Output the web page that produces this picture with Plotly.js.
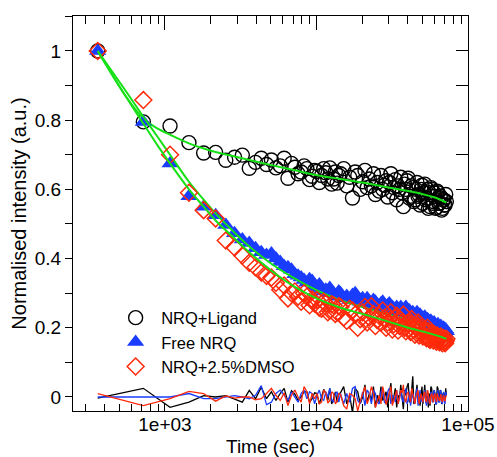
<!DOCTYPE html>
<html>
<head>
<meta charset="utf-8">
<script src="https://cdn.plot.ly/plotly-3.0.1.min.js"></script>
<style>html,body{margin:0;padding:0;background:#fff;}#chart{width:497px;height:457px;}</style>
</head>
<body>
<div id="chart"></div>
<script>
// Time points (sec)
const timeSec = [360,720,1080,1440,1800,2160,2520,2880,3240,3600,
  3960,4320,4680,5040,5400,5760,6120,6480,6840,7200,
  7560,7920,8280,8640,9000,9360,9720,10080,10440,10800,
  11160,11520,11880,12240,12600,12960,13320,13680,14040,14400,
  15120,15840,16560,17280,18000,18720,19440,20160,20880,21600,
  22320,23040,23760,24480,25200,25920,26640,27360,28080,28800,
  29520,30240,30960,31680,32400,33120,33840,34560,35280,36000,
  36720,37440,38160,38880,39600,40320,41040,41760,42480,43200,
  43920,44640,45360,46080,46800,47520,48240,48960,49680,50400,
  51120,51840,52560,53280,54000,54720,55440,56160,56880,57600,
  58320,59040,59760,60480,61200,61920,62640,63360,64080,64800,
  65520,66240,66960,67680,68400,69120,69840,70560,71280,72000];

// NRQ+Ligand (open circles)
const ligand = [1.0,0.795,0.783,0.735,0.705,0.707,0.684,0.693,0.699,0.661,
  0.678,0.69,0.672,0.685,0.662,0.668,0.69,0.632,0.675,0.664,
  0.645,0.65,0.668,0.66,0.628,0.638,0.655,0.652,0.62,0.64,
  0.66,0.648,0.63,0.662,0.615,0.63,0.65,0.618,0.64,0.645,
  0.66,0.61,0.635,0.575,0.65,0.64,0.6,0.622,0.655,0.605,
  0.63,0.61,0.645,0.585,0.62,0.595,0.64,0.6,0.612,0.625,
  0.578,0.62,0.645,0.59,0.605,0.628,0.57,0.61,0.6,0.635,
  0.59,0.55,0.615,0.6,0.625,0.632,0.575,0.58,0.61,0.605,
  0.565,0.57,0.6,0.62,0.58,0.585,0.555,0.6,0.612,0.56,
  0.59,0.615,0.57,0.575,0.6,0.545,0.59,0.55,0.605,0.6,
  0.56,0.565,0.59,0.58,0.545,0.548,0.595,0.59,0.56,0.56,
  0.58,0.575,0.54,0.545,0.57,0.57,0.555,0.555,0.585,0.565];

// Free NRQ (filled triangles)
const freeNRQ = [1.0,0.795,0.675,0.58,0.55,0.525,0.497,0.473,0.455,0.445,
  0.43,0.418,0.41,0.415,0.4,0.39,0.378,0.375,0.368,0.355,
  0.35,0.345,0.338,0.33,0.34,0.335,0.322,0.315,0.325,0.31,
  0.305,0.31,0.3,0.315,0.305,0.3,0.29,0.295,0.305,0.3,
  0.285,0.292,0.28,0.295,0.3,0.28,0.275,0.285,0.27,0.285,
  0.275,0.265,0.28,0.275,0.262,0.26,0.27,0.275,0.258,0.255,
  0.265,0.27,0.25,0.26,0.255,0.248,0.26,0.245,0.252,0.26,
  0.25,0.245,0.255,0.26,0.24,0.245,0.25,0.235,0.242,0.245,
  0.235,0.23,0.24,0.245,0.225,0.232,0.238,0.225,0.23,0.22,
  0.228,0.232,0.22,0.215,0.225,0.222,0.21,0.215,0.22,0.215,
  0.205,0.21,0.215,0.208,0.2,0.198,0.205,0.21,0.198,0.195,
  0.2,0.205,0.192,0.19,0.198,0.2,0.188,0.185,0.195,0.19];

// NRQ+2.5%DMSO (open diamonds)
const dmso = [1.0,0.858,0.70,0.59,0.54,0.516,0.452,0.432,0.409,0.388,
  0.375,0.36,0.35,0.345,0.33,0.31,0.322,0.285,0.3,0.305,
  0.29,0.275,0.3,0.29,0.265,0.282,0.27,0.28,0.258,0.255,
  0.275,0.27,0.245,0.25,0.268,0.265,0.24,0.245,0.262,0.26,
  0.23,0.22,0.255,0.25,0.238,0.2,0.225,0.245,0.26,0.215,
  0.23,0.262,0.24,0.205,0.222,0.235,0.215,0.25,0.228,0.2,
  0.215,0.23,0.245,0.195,0.21,0.228,0.235,0.192,0.205,0.222,
  0.215,0.238,0.2,0.19,0.212,0.215,0.198,0.188,0.225,0.21,
  0.195,0.18,0.2,0.205,0.215,0.178,0.19,0.2,0.185,0.175,
  0.192,0.195,0.175,0.17,0.2,0.19,0.168,0.165,0.182,0.185,
  0.175,0.163,0.178,0.18,0.168,0.16,0.178,0.172,0.165,0.158,
  0.168,0.175,0.162,0.155,0.165,0.17,0.158,0.155,0.162,0.168];

// Fit curves (green)
const fitTime = [360,540,720,900,1080,1440,1800,2160,2880,3600,5040,7200,10080,14400,20160,28800,40320,50400,61920,72000];
const fitLigand = [1.0,0.875,0.805,0.775,0.758,0.733,0.718,0.708,0.695,0.685,0.670,0.655,0.641,0.630,0.620,0.607,0.595,0.586,0.575,0.562];
const fitFree = [1.0,0.89,0.81,0.75,0.70,0.622,0.57,0.53,0.475,0.435,0.385,0.342,0.308,0.28,0.26,0.24,0.222,0.21,0.198,0.188];
const fitDmso = [1.0,0.875,0.79,0.725,0.675,0.60,0.55,0.51,0.458,0.418,0.365,0.318,0.284,0.258,0.24,0.22,0.2,0.189,0.178,0.168];

// Residuals
const resLigand = [-0.003,0.025,-0.03,-0.015,0.004,0.0,0.004,-0.005,-0.015,0.019,
  -0.005,0.028,-0.005,0.015,-0.01,0.01,0.025,-0.015,0.018,0.008,
  -0.01,0.0,0.015,0.015,-0.015,-0.005,0.012,0.01,-0.02,0.0,
  0.022,0.01,-0.01,0.025,-0.02,-0.005,0.015,-0.015,0.008,0.012,
  0.03,-0.02,0.005,-0.045,0.025,0.015,-0.02,0.0,0.035,-0.015,
  0.01,-0.01,0.03,-0.03,0.005,-0.015,0.03,-0.01,0.0,0.015,
  -0.03,0.01,0.04,-0.015,0.0,0.025,-0.03,0.005,-0.005,0.035,
  -0.005,-0.035,0.02,0.005,0.03,0.04,-0.015,-0.01,0.02,0.06,
  -0.02,-0.015,0.01,0.035,-0.01,0.0,-0.025,0.015,0.03,-0.02,
  0.01,0.035,-0.01,-0.01,0.02,-0.03,0.01,-0.025,0.03,0.025,
  -0.015,-0.01,0.02,0.01,-0.02,-0.02,0.03,0.025,-0.005,0.0,
  0.02,0.015,-0.02,-0.015,0.01,0.012,-0.005,-0.005,0.025,0.005];
const resFree = [0.0,0.0,0.0,0.01,-0.005,-0.005,0.0,0.004,0.0,-0.005,
  0.005,0.033,-0.022,-0.015,0.01,0.02,0.005,-0.01,0.015,0.0,
  -0.015,0.01,0.02,-0.005,0.015,0.01,-0.02,0.005,0.02,-0.005,
  -0.01,0.015,0.0,0.025,-0.01,-0.015,0.01,0.015,-0.015,0.01,
  -0.02,0.01,-0.015,0.025,0.03,-0.01,-0.02,0.015,-0.025,0.02,
  0.01,-0.02,0.02,0.01,-0.015,-0.02,0.015,0.025,-0.015,-0.02,
  0.015,0.025,-0.02,0.005,0.0,-0.015,0.02,-0.02,0.0,0.02,
  -0.005,-0.015,0.01,0.025,-0.02,-0.01,0.015,-0.025,-0.005,0.01,
  -0.01,-0.02,0.01,0.025,-0.025,-0.005,0.02,-0.015,0.005,-0.015,
  0.01,0.02,-0.015,-0.025,0.01,0.01,-0.02,-0.01,0.015,0.01,
  -0.015,0.0,0.02,0.01,-0.02,-0.02,0.01,0.02,-0.015,-0.015,
  0.01,0.02,-0.015,-0.02,0.005,0.015,-0.015,-0.02,0.015,0.005];
const resDmso = [0.01,-0.025,-0.005,0.016,0.01,-0.012,0.003,-0.003,0.0,0.0,
  -0.008,-0.005,0.01,0.025,0.005,-0.01,0.012,-0.025,0.005,0.02,
  0.0,-0.015,0.03,0.015,-0.02,0.01,-0.005,0.01,-0.02,-0.015,
  0.02,0.012,-0.018,-0.01,0.015,0.01,-0.02,-0.012,0.01,0.008,
  -0.025,-0.035,0.01,0.005,-0.005,-0.04,-0.012,0.01,0.03,-0.02,
  0.0,0.03,0.01,-0.03,-0.01,0.005,-0.02,0.03,0.006,-0.022,
  -0.005,0.01,0.03,-0.025,-0.01,0.01,0.02,-0.02,-0.005,0.02,
  0.012,0.035,-0.005,-0.015,0.01,0.015,-0.005,-0.015,0.025,0.01,
  -0.005,-0.02,0.0,0.008,0.02,-0.02,-0.005,0.01,-0.005,-0.015,
  0.01,0.015,-0.01,-0.015,0.02,0.01,-0.015,-0.02,0.005,0.01,
  0.0,-0.015,0.005,0.01,-0.005,-0.015,0.01,0.005,-0.005,-0.012,
  0.0,0.008,-0.008,-0.015,0.0,0.005,-0.01,-0.012,0.0,0.005];

const xMajorVals = [1000,10000,100000];
const xMajorText = ['1e+03','1e+04','1e+05'];
const xMinorVals = [300,400,500,600,700,800,900,2000,3000,4000,5000,6000,7000,8000,9000,
  20000,30000,40000,50000,60000,70000,80000,90000];
const yTickVals = [0,0.2,0.4,0.6,0.8,1];
const yTickText = ['0','0.2','0.4','0.6','0.8','1'];

const GREEN = '#16e016', BLUE = '#1a3cff', RED = '#ff2a0a';
const FONT = 'Liberation Sans, Arial, Helvetica, sans-serif';

const traces = [
  {x: timeSec, y: ligand, type:'scatter', mode:'markers', name:'NRQ+Ligand',
   marker:{symbol:'circle-open', size:14, color:'#000', line:{width:1.4}}},
  {x: fitTime, y: fitLigand, type:'scatter', mode:'lines', showlegend:false,
   line:{color:GREEN, width:2, shape:'spline', smoothing:0.8}},
  {x: timeSec, y: freeNRQ, type:'scatter', mode:'markers', name:'Free NRQ',
   marker:{symbol:'triangle-up', size:15, color:BLUE}},
  {x: fitTime, y: fitFree, type:'scatter', mode:'lines', showlegend:false,
   line:{color:GREEN, width:2, shape:'spline', smoothing:0.8}},
  {x: timeSec, y: dmso, type:'scatter', mode:'markers', name:'NRQ+2.5%DMSO',
   marker:{symbol:'diamond-open', size:13, color:RED, line:{width:1.5}}},
  {x: fitTime, y: fitDmso, type:'scatter', mode:'lines', showlegend:false,
   line:{color:GREEN, width:2, shape:'spline', smoothing:0.8}},
  {x: timeSec, y: resLigand, type:'scatter', mode:'lines', showlegend:false, line:{color:'#000', width:1.3}},
  {x: timeSec, y: resFree, type:'scatter', mode:'lines', showlegend:false, line:{color:BLUE, width:1.3}},
  {x: timeSec, y: resDmso, type:'scatter', mode:'lines', showlegend:false, line:{color:RED, width:1.3}},
  {x:[1000], y:[null], xaxis:'x2', yaxis:'y2', showlegend:false, hoverinfo:'skip', mode:'markers'}
];

const xr = [2.393, 5.0], yr = [-0.0405, 1.101];
const layout = {
  width:497, height:457,
  margin:{l:73, r:29, t:16, b:46},
  paper_bgcolor:'#fff', plot_bgcolor:'#fff',
  font:{family:FONT, size:19, color:'#000'},
  showlegend:true,
  legend:{x:0.094, xanchor:'left', y:0.28, yanchor:'top', bgcolor:'rgba(0,0,0,0)',
    font:{family:FONT, size:16.5, color:'#000'}, itemwidth:41, tracegroupgap:0},
  xaxis:{type:'log', range:xr, showline:true, linecolor:'#000', linewidth:1, mirror:false,
    showgrid:false, zeroline:false, tickmode:'array', tickvals:xMajorVals, ticktext:xMajorText,
    ticks:'inside', ticklen:8, tickcolor:'#000', tickwidth:1, ticklabelstandoff:-4,
    minor:{tickmode:'array', tickvals:xMinorVals, ticks:'inside', ticklen:7, tickcolor:'#000', tickwidth:1, showgrid:false},
    tickfont:{size:19}, automargin:false,
    title:{text:'Time (sec)', font:{size:19}, standoff:7}},
  xaxis2:{type:'log', range:xr, overlaying:'x', side:'top', anchor:'y2', showline:true, linecolor:'#000', linewidth:1,
    showgrid:false, zeroline:false, tickmode:'array', tickvals:xMajorVals, showticklabels:false,
    ticks:'inside', ticklen:14, tickcolor:'#000',
    minor:{tickmode:'array', tickvals:xMinorVals, ticks:'inside', ticklen:8, tickcolor:'#000', showgrid:false}},
  yaxis:{range:yr, showline:true, linecolor:'#000', linewidth:1, showgrid:false, zeroline:false,
    tickmode:'array', tickvals:yTickVals, ticktext:yTickText, ticks:'outside', ticklen:7, tickcolor:'#000',
    minor:{dtick:0.1, ticks:'outside', ticklen:7, tickcolor:'#000', showgrid:false},
    tickfont:{size:19}, automargin:false,
    title:{text:'Normalised intensity (a.u.)', font:{size:20}, standoff:2}},
  yaxis2:{range:yr, overlaying:'y', side:'right', anchor:'x2', showline:true, linecolor:'#000', linewidth:1,
    showgrid:false, zeroline:false, showticklabels:false, tickmode:'linear', tick0:0, dtick:0.1,
    ticks:'inside', ticklen:12, tickcolor:'#000'}
};

Plotly.newPlot('chart', traces, layout, {displayModeBar:false, staticPlot:true});
</script>
</body>
</html>
